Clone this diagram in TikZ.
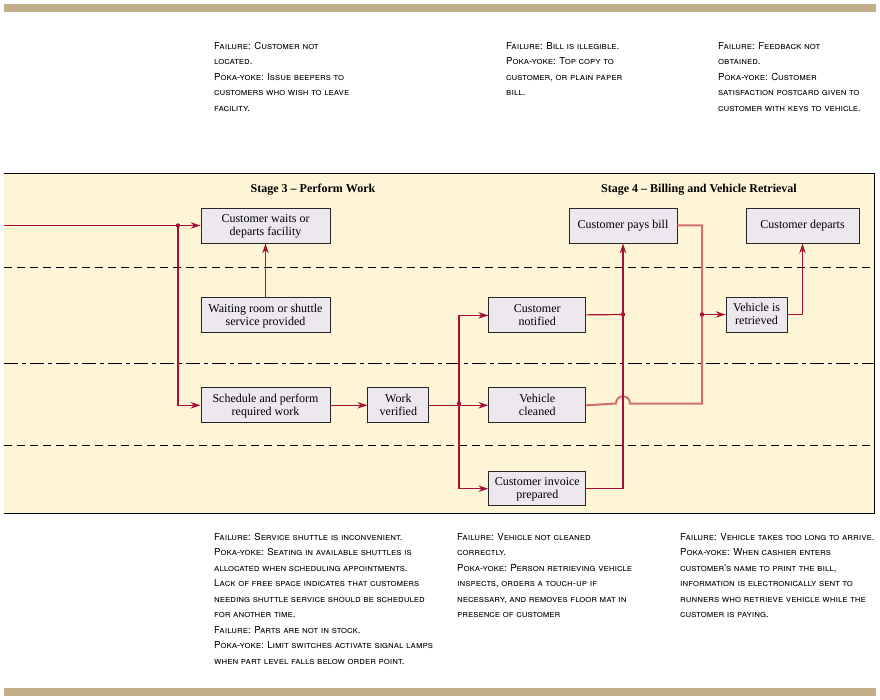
\documentclass[tikz,border=0pt]{standalone}
\usepackage{fontspec}
\setmainfont{Liberation Serif}
\newfontfamily\notefont{TeX Gyre Heros}
\usetikzlibrary{arrows.meta,positioning}
\definecolor{flowred}{RGB}{166,16,56}
\definecolor{returnred}{RGB}{208,112,108}
\definecolor{boxfill}{RGB}{236,232,238}
\definecolor{bandfill}{RGB}{254,244,214}
\definecolor{tanbar}{RGB}{191,174,136}
\tikzset{
    %Define standard arrow tip
    >={Stealth[length=10pt,width=6.5pt]},
    %Define style for boxes
    stepbox/.style={
           rectangle,
           draw=black!85, line width=0.9pt,
           fill=boxfill,
           minimum height=35pt,
           inner sep=2pt,
           text depth=1.5pt,
           align=center,
           font=\fontsize{12}{13}\selectfont},
    % Define arrow style
    flow/.style={
           ->,
           draw=flowred,
           line width=1.2pt},
    flowline/.style={
           draw=flowred,
           line width=1.2pt},
    returnline/.style={
           draw=returnred,
           line width=2pt},
    % Define style for failure notes
    note/.style={
           anchor=north west,
           inner sep=0pt,
           align=left,
           font=\notefont\scshape\fontsize{9.6}{15.5}\selectfont},
    stagetitle/.style={font=\bfseries\fontsize{12}{13}\selectfont},
    lane/.style={black, line width=0.8pt, dash pattern=on 8pt off 5pt},
    linelane/.style={black, line width=0.8pt, dash pattern=on 14pt off 4pt on 4pt off 4pt}
}
\begin{document}
\begin{tikzpicture}[x=1pt, y=-1pt]
    \useasboundingbox (0,0) rectangle (880,700);
    % page bars and lanes
    \fill[tanbar] (4,4) rectangle (876,12);
    \fill[tanbar] (4,688) rectangle (876,696);
    \fill[bandfill] (4,173) rectangle (874,513);
    \draw[black, line width=0.9pt] (4,173) -- (874,173) -- (874,513) -- (4,513);
    \draw[lane] (4,267) -- (874,267);
    \draw[linelane] (4,363) -- (874,363);
    \draw[lane] (4,445) -- (874,445);
    \node[stagetitle] (stage3) at (313,189.5) {Stage 3 -- Perform Work};
    \node[stagetitle] (stage4) at (699,189.5) {Stage 4 -- Billing and Vehicle Retrieval};
    % process steps
    \node[stepbox, minimum width=129pt] (wait) at (265.5,225.5) {Customer waits or\\departs facility};
    \node[stepbox, minimum width=129pt, below=54pt of wait] (room) {Waiting room or shuttle\\service provided};
    \node[stepbox, minimum width=129pt, below=54pt of room] (sched) {Schedule and perform\\required work};
    \node[stepbox, minimum width=61pt, right=37pt of sched] (verified) {Work\\verified};
    \node[stepbox, minimum width=97pt, right=59pt of verified] (cleaned) {Vehicle\\cleaned};
    \node[stepbox, minimum width=97pt, above=54pt of cleaned] (notified) {Customer\\notified};
    \node[stepbox, minimum width=97pt, minimum height=34pt, below=48pt of cleaned] (invoice) {Customer invoice\\prepared};
    \node[stepbox, minimum width=108pt] (paybill) at (623,225.5) {Customer pays bill};
    \node[stepbox, minimum width=113pt] (departs) at (802.5,225.5) {Customer departs};
    \node[stepbox, minimum width=61pt] (retrieved) at (756.5,314.5) {Vehicle is\\retrieved};
    % junctions
    \coordinate (start) at (4,225.5);
    \coordinate (split1) at (178,225.5);
    \coordinate (split2) at (459,403.5);
    \coordinate (join1) at (623,314.5);
    \coordinate (join2) at (702,314.5);
    \coordinate (corner) at (702,403.5);
    % connectors
    \draw[returnline] (paybill.east) -| (corner) -- (630,403.5)
        .. controls (630,394) and (616,394) .. (616,403.5) -- (cleaned.east);
    \draw[flow] (start) -- (wait);
    \draw[flow] (split1) |- (sched);
    \draw[flow] (room) -- (wait);
    \draw[flow] (sched) -- (verified);
    \draw[flow] (verified) -- (cleaned);
    \draw[flow] (split2) |- (notified);
    \draw[flow] (split2) |- (invoice);
    \draw[flow] (invoice) -| (paybill);
    \draw[flowline] (notified) -- (join1);
    \draw[flow] (join2) -- (retrieved);
    \draw[flow] (retrieved) -| (departs);
    \foreach \j in {split1,split2,join1,join2}
        \fill[flowred] (\j) circle (2.2pt);
    % failure notes
    \node[note] (noteA) at (214,42) {Failure: Customer not\\located.\\Poka-yoke: Issue beepers to\\customers who wish to leave\\facility.};
    \node[note] (noteB) at (506,42) {Failure: Bill is illegible.\\Poka-yoke: Top copy to\\customer, or plain paper\\bill.};
    \node[note] (noteC) at (718,42) {Failure: Feedback not\\obtained.\\Poka-yoke: Customer\\satisfaction postcard given to\\customer with keys to vehicle.};
    \node[note] (noteD) at (214,533) {Failure: Service shuttle is inconvenient.\\Poka-yoke: Seating in available shuttles is\\allocated when scheduling appointments.\\Lack of free space indicates that customers\\needing shuttle service should be scheduled\\for another time.\\Failure: Parts are not in stock.\\Poka-yoke: Limit switches activate signal lamps\\when part level falls below order point.};
    \node[note] (noteE) at (457,533) {Failure: Vehicle not cleaned\\correctly.\\Poka-yoke: Person retrieving vehicle\\inspects, orders a touch-up if\\necessary, and removes floor mat in\\presence of customer};
    \node[note] (noteF) at (680,533) {Failure: Vehicle takes too long to arrive.\\Poka-yoke: When cashier enters\\customer's name to print the bill,\\information is electronically sent to\\runners who retrieve vehicle while the\\customer is paying.};
\end{tikzpicture}
\end{document}
